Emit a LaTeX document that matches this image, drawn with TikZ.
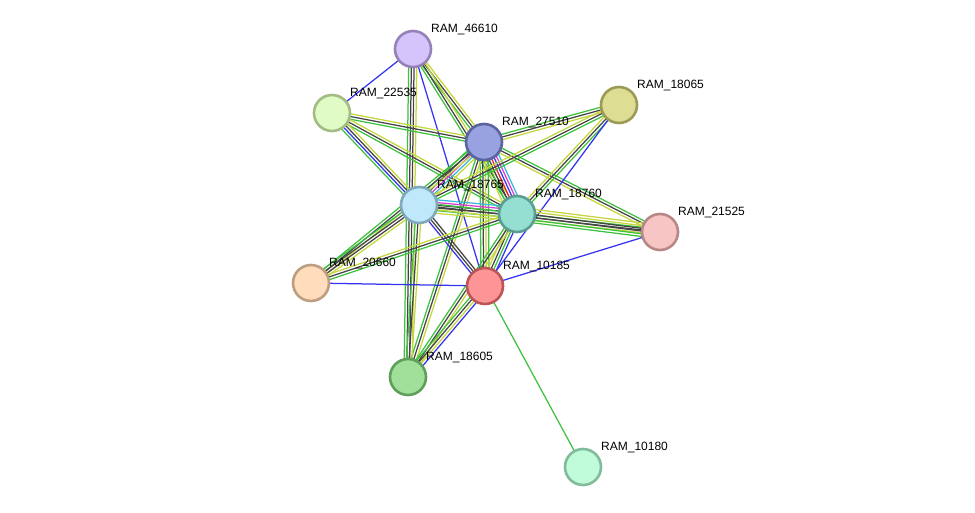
\documentclass[tikz,border=0pt]{standalone}
\usepackage{fontspec}
\setmainfont{Liberation Sans}
\usetikzlibrary{calc, backgrounds, positioning}
\definecolor{kgr}{HTML}{3DC23D}
\definecolor{kyl}{HTML}{C4D63C}
\definecolor{kbk}{HTML}{444444}
\definecolor{kbl}{HTML}{3434F0}
\definecolor{kmg}{HTML}{D83AD8}
\definecolor{kcy}{HTML}{38B8DC}
\definecolor{krd}{HTML}{E82424}
% one bundle of parallel evidence lines between two proteins
\newcommand{\ppi}[3]{%
  \xdef\nn{0}%
  \foreach \c in {#3} {\pgfmathtruncatemacro\tmp{\nn+1}\xdef\nn{\tmp}}%
  \foreach \c [count=\i] in {#3} {%
    \pgfmathsetmacro\o{(\i-(\nn+1)/2)*2.7}%
    \draw[link, draw=\c] ($(#1)!\o pt!90:(#2)$) -- ($(#2)!\o pt!-90:(#1)$);
  }%
}

\begin{document}
\begin{tikzpicture}[
    x=1pt, y=-1pt,
    prot/.style={circle, minimum size=36pt, inner sep=0pt, line width=2.6pt},
    link/.style={line width=1.25pt},
    lbl/.style={anchor=west, inner sep=0pt, font=\fontsize{12}{14}\selectfont, text=black}
]
\useasboundingbox (0,0) rectangle (975,513);
% proteins
\node[prot, fill={rgb,255:red,213;green,196;blue,251}, draw={rgb,255:red,150;green,130;blue,185}] (n46610) at (413,49) {};
\node[prot, fill={rgb,255:red,224;green,252;blue,196}, draw={rgb,255:red,163;green,187;blue,133}] (n22535) at (332,113) {};
\node[prot, fill={rgb,255:red,152;green,162;blue,224}, draw={rgb,255:red,90;green,100;blue,160}] (n27510) at (484,142) {};
\node[prot, fill={rgb,255:red,222;green,221;blue,148}, draw={rgb,255:red,156;green,155;blue,85}] (n18065) at (619,105) {};
\node[prot, fill={rgb,255:red,192;green,232;blue,251}, draw={rgb,255:red,130;green,168;blue,187}] (n18765) at (419,205) {};
\node[prot, fill={rgb,255:red,149;green,222;blue,210}, draw={rgb,255:red,90;green,158;blue,146}] (n18760) at (517,214) {};
\node[prot, fill={rgb,255:red,248;green,197;blue,197}, draw={rgb,255:red,184;green,135;blue,135}] (n21525) at (660,232) {};
\node[prot, fill={rgb,255:red,254;green,220;blue,188}, draw={rgb,255:red,188;green,158;blue,128}] (n20660) at (311,283) {};
\node[prot, fill={rgb,255:red,253;green,149;blue,150}, draw={rgb,255:red,188;green,85;blue,86}] (n10185) at (485,286) {};
\node[prot, fill={rgb,255:red,160;green,224;blue,154}, draw={rgb,255:red,95;green,159;blue,90}] (n18605) at (408,377) {};
\node[prot, fill={rgb,255:red,192;green,251;blue,218}, draw={rgb,255:red,128;green,187;blue,156}] (n10180) at (583,467) {};
% labels
\node[lbl] (l46610) at ($(n46610)+(18,-19)$) {RAM\_46610};
\node[lbl] (l22535) at ($(n22535)+(18,-19)$) {RAM\_22535};
\node[lbl] (l27510) at ($(n27510)+(18,-19)$) {RAM\_27510};
\node[lbl] (l18065) at ($(n18065)+(18,-19)$) {RAM\_18065};
\node[lbl] (l18765) at ($(n18765)+(18,-19)$) {RAM\_18765};
\node[lbl] (l18760) at ($(n18760)+(18,-19)$) {RAM\_18760};
\node[lbl] (l21525) at ($(n21525)+(18,-19)$) {RAM\_21525};
\node[lbl] (l20660) at ($(n20660)+(18,-19)$) {RAM\_20660};
\node[lbl] (l10185) at ($(n10185)+(18,-19)$) {RAM\_10185};
\node[lbl] (l18605) at ($(n18605)+(18,-19)$) {RAM\_18605};
\node[lbl] (l10180) at ($(n10180)+(18,-19)$) {RAM\_10180};
% interactions
\begin{scope}[on background layer]
\ppi{n46610}{n22535}{kbl}
\ppi{n46610}{n27510}{kgr,kbk,kyl}
\ppi{n46610}{n18760}{kgr,kbk,kyl}
\ppi{n46610}{n18605}{kgr,kbk,kbk,kyl}
\ppi{n46610}{n10185}{kbl}
\ppi{n22535}{n27510}{kgr,kbk,kyl}
\ppi{n22535}{n18760}{kgr,kbk,kyl}
\ppi{n22535}{n18765}{kgr,kbl,kbk,kyl}
\ppi{n27510}{n18065}{kyl,kbk,kgr}
\ppi{n27510}{n18765}{kgr,kbk,kmg,kcy,kyl}
\ppi{n27510}{n18760}{kyl,kgr,kbk,krd,kbl,kmg,kcy}
\ppi{n27510}{n21525}{kyl,kbk,kgr}
\ppi{n27510}{n10185}{kgr,kbk,kyl,kgr}
\ppi{n27510}{n20660}{kgr,kbk,kyl}
\ppi{n27510}{n18605}{kgr,kbk,kyl}
\ppi{n18065}{n18765}{kyl,kbk,kgr}
\ppi{n18065}{n18760}{kyl,kbk,kgr}
\ppi{n18065}{n10185}{kbl}
\ppi{n18765}{n18760}{kyl,kgr,kbk,kbk,kmg,kcy}
\ppi{n18765}{n21525}{kyl,kbk,kgr}
\ppi{n18765}{n20660}{kgr,kbk,kbk,kyl}
\ppi{n18765}{n10185}{kbl,kbk,kbk}
\ppi{n18765}{n18605}{kgr,kbk,kyl}
\ppi{n18760}{n21525}{kgr,kgr,kbk,kbk,kyl,kyl}
\ppi{n18760}{n10185}{kyl,kbk,kgr,kbl}
\ppi{n18760}{n20660}{kyl,kbk,kgr}
\ppi{n18760}{n18605}{kgr,kbk,kyl}
\ppi{n10185}{n21525}{kbl}
\ppi{n10185}{n20660}{kbl}
\ppi{n10185}{n18605}{kgr,kbk,kyl,kbl}
\ppi{n10185}{n10180}{kgr}
\end{scope}
\end{tikzpicture}
\end{document}
